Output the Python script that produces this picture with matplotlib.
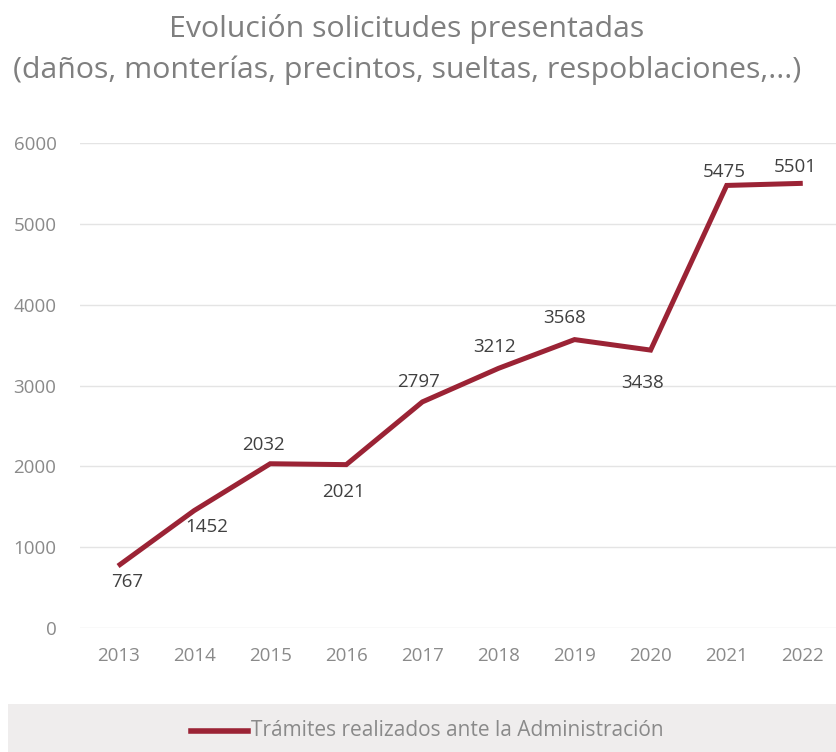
import matplotlib
matplotlib.use("Agg")
import matplotlib.pyplot as plt
from matplotlib.patches import Rectangle

years = ["2013", "2014", "2015", "2016", "2017", "2018", "2019", "2020", "2021", "2022"]
values = [767, 1452, 2032, 2021, 2797, 3212, 3568, 3438, 5475, 5501]
series_name = "Trámites realizados ante la Administración"
title_line1 = "Evolución solicitudes presentadas"
title_line2 = "(daños, monterías, precintos, sueltas, respoblaciones,...)"

# label offsets in pixels (dx, dy)
label_offsets = [(9, -16), (13, -16), (-7, 19), (-3, -27), (-4, 20),
                 (-4, 21), (-10, 22), (-8, -33), (-2, 13), (-8, 16)]

plt.rcParams['font.family'] = ['Open Sans', 'DejaVu Sans']

W, H = 837, 752
fig = plt.figure(figsize=(W / 100, H / 100), dpi=100)
fig.patch.set_facecolor('white')

left, right = 80 / W, 1.0
bottom = 1 - 628 / H
top = 1 - 143 / H
ax = fig.add_axes([left, bottom, right - left, top - bottom])

x = list(range(len(years)))
line_color = '#9b2335'
ax.plot(x, values, color=line_color, linewidth=3.6, solid_joinstyle='miter',
        solid_capstyle='butt', label=series_name, zorder=3)

for xi, v, (dx, dy) in zip(x, values, label_offsets):
    ax.annotate(str(v), (xi, v), xytext=(dx, dy), textcoords='offset pixels',
                ha='center', va='center', fontsize=13.5, color='#404040', zorder=4)

ax.set_ylim(0, 6000)
ax.set_yticks(range(0, 6001, 1000))
ax.set_xlim(-0.5, 9.45)
ax.set_xticks(x)
ax.set_xticklabels(years)
ax.grid(axis='y', color='#e4e4e4', linewidth=1.0)
ax.set_axisbelow(True)
for s in ax.spines.values():
    s.set_visible(False)
ax.tick_params(axis='both', length=0, labelsize=13.5, colors='#8a8a8a')
ax.tick_params(axis='x', pad=14)
ax.tick_params(axis='y', pad=17)

fig.text(407 / W, 1 - 37 / H, title_line1, ha='center', va='baseline', fontsize=21.8,
         color='#7f7f7f')
fig.text(407 / W, 1 - 78 / H, title_line2, ha='center', va='baseline', fontsize=21.8,
         color='#7f7f7f')

# legend band
fig.patches.append(Rectangle((8 / W, 0), 1 - 8 / W, 48 / H, transform=fig.transFigure,
                             facecolor='#efeded', edgecolor='none', zorder=0))
ly = 1 - 731 / H
fig.add_artist(plt.Line2D([191 / W, 248 / W], [ly, ly], transform=fig.transFigure,
                          color=line_color, linewidth=4))
fig.text(251 / W, ly, series_name, ha='left', va='center', fontsize=15, color='#8a8a8a')

fig.savefig('out.png', dpi=100, facecolor='white')
